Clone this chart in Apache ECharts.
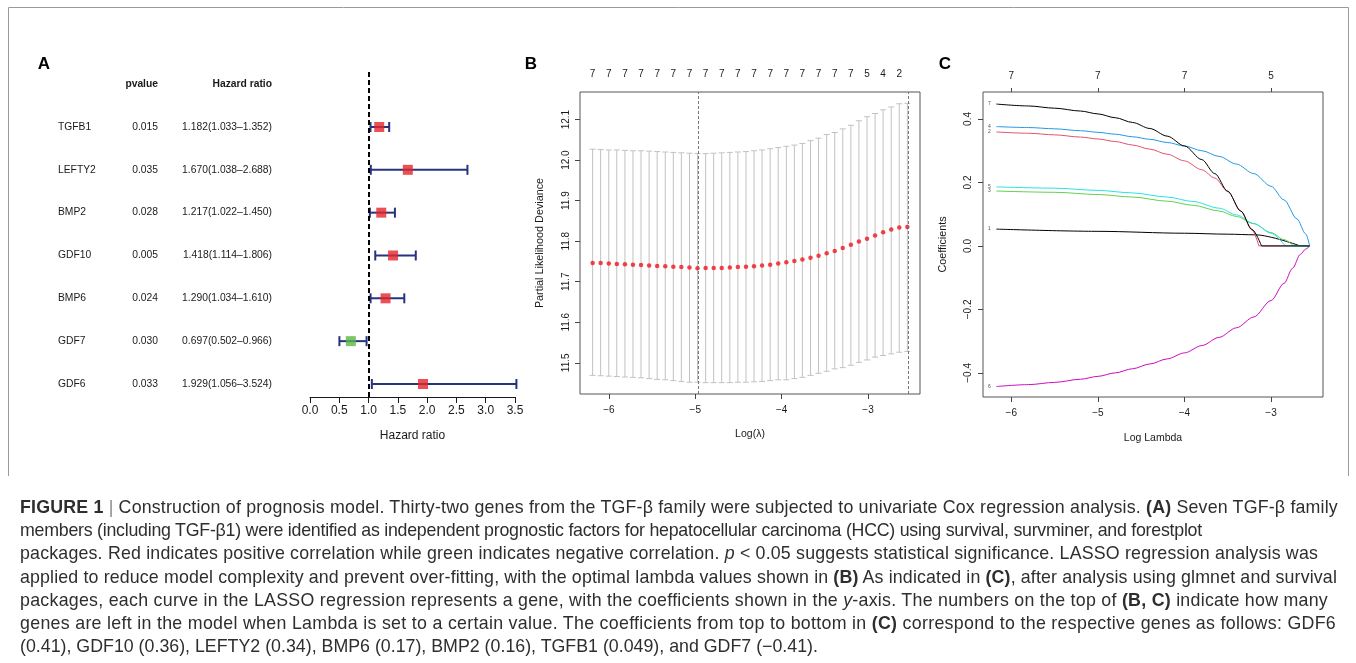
<!DOCTYPE html>
<html>
<head>
<meta charset="utf-8">
<title>Construction of prognosis model</title>
<script src="https://cdn.jsdelivr.net/npm/echarts@6/dist/echarts.min.js"></script>
<style>
  html, body { margin: 0; padding: 0; background: #fff; }
  #chart { position: absolute; left: 0; top: 0; width: 1356px; height: 663px; }
  #caption {
    position: absolute; left: 20px; top: 496px;
    font-family: 'Liberation Sans', Arial, Helvetica, sans-serif;
    font-size: 17.8px; line-height: 23.2px; color: #2e2e2e;
  }
  #caption .line { white-space: nowrap; display: block; width: max-content; }
  #caption .sep { color: #8a8a8a; }
</style>
</head>
<body>
<div id="chart"></div>
<div id="caption">
  <span class="line" data-end="1338"><b>FIGURE 1</b> <span class="sep">|</span> Construction of prognosis model. Thirty-two genes from the TGF-β family were subjected to univariate Cox regression analysis. <b>(A)</b> Seven TGF-β family</span>
  <span class="line" data-end="1202">members (including TGF-β1) were identified as independent prognostic factors for hepatocellular carcinoma (HCC) using survival, survminer, and forestplot</span>
  <span class="line" data-end="1318">packages. Red indicates positive correlation while green indicates negative correlation. <i>p</i> &lt; 0.05 suggests statistical significance. LASSO regression analysis was</span>
  <span class="line" data-end="1337">applied to reduce model complexity and prevent over-fitting, with the optimal lambda values shown in <b>(B)</b> As indicated in <b>(C)</b>, after analysis using glmnet and survival</span>
  <span class="line" data-end="1328">packages, each curve in the LASSO regression represents a gene, with the coefficients shown in the <i>y</i>-axis. The numbers on the top of <b>(B, C)</b> indicate how many</span>
  <span class="line" data-end="1336">genes are left in the model when Lambda is set to a certain value. The coefficients from top to bottom in <b>(C)</b> correspond to the respective genes as follows: GDF6</span>
  <span class="line" data-end="818">(0.41), GDF10 (0.36), LEFTY2 (0.34), BMP6 (0.17), BMP2 (0.16), TGFB1 (0.049), and GDF7 (−0.41).</span>
</div>
<script>
// ---------- Panel A: univariate Cox regression (forest plot) ----------
const genes = ['TGFB1', 'LEFTY2', 'BMP2', 'GDF10', 'BMP6', 'GDF7', 'GDF6'];
const pValues = ['0.015', '0.035', '0.028', '0.005', '0.024', '0.030', '0.033'];
const hazardRatio = [1.182, 1.670, 1.217, 1.418, 1.290, 0.697, 1.929];
const ciLower = [1.033, 1.038, 1.022, 1.114, 1.034, 0.502, 1.056];
const ciUpper = [1.352, 2.688, 1.450, 1.806, 1.610, 0.966, 3.524];
const hrAxisMin = 0, hrAxisMax = 3.5, hrAxisStep = 0.5;

// ---------- Panel B: cross-validated partial likelihood deviance ----------
const logLambdaB = [
  -6.188, -6.095, -6.001, -5.908, -5.814, -5.721, -5.628, -5.534, -5.441, -5.347,
  -5.254, -5.161, -5.067, -4.974, -4.880, -4.787, -4.694, -4.600, -4.507, -4.413,
  -4.320, -4.227, -4.133, -4.040, -3.946, -3.853, -3.760, -3.666, -3.573, -3.479,
  -3.386, -3.293, -3.199, -3.106, -3.012, -2.919, -2.826, -2.732, -2.639, -2.545
];
const cvMean = [
  11.746, 11.746, 11.745, 11.744, 11.743, 11.742, 11.741, 11.740, 11.739, 11.738,
  11.737, 11.736, 11.735, 11.733, 11.734, 11.734, 11.734, 11.735, 11.736, 11.737,
  11.738, 11.740, 11.742, 11.745, 11.748, 11.751, 11.755, 11.759, 11.764, 11.770,
  11.776, 11.783, 11.791, 11.799, 11.806, 11.814, 11.822, 11.829, 11.834, 11.835
];
const cvUpper = [
  12.027, 12.026, 12.025, 12.025, 12.024, 12.023, 12.023, 12.022, 12.021, 12.020,
  12.019, 12.018, 12.017, 12.016, 12.016, 12.017, 12.018, 12.019, 12.020, 12.021,
  12.023, 12.025, 12.028, 12.031, 12.034, 12.037, 12.041, 12.048, 12.054, 12.063,
  12.068, 12.077, 12.086, 12.097, 12.107, 12.115, 12.124, 12.131, 12.139, 12.140
];
const cvLower = [
  11.469, 11.468, 11.467, 11.466, 11.465, 11.464, 11.463, 11.461, 11.459, 11.458,
  11.456, 11.454, 11.452, 11.452, 11.451, 11.451, 11.451, 11.451, 11.452, 11.452,
  11.453, 11.454, 11.456, 11.458, 11.458, 11.461, 11.464, 11.469, 11.474, 11.479,
  11.485, 11.488, 11.494, 11.501, 11.507, 11.514, 11.518, 11.522, 11.526, 11.528
];
// number of non-zero coefficients, printed above every second lambda
const nonZeroB = [7, 7, 7, 7, 7, 7, 7, 7, 7, 7, 7, 7, 7, 7, 7, 7, 7, 5, 4, 2];
const xTicksB = [-6, -5, -4, -3];
const yTicksB = [11.5, 11.6, 11.7, 11.8, 11.9, 12.0, 12.1];

// ---------- Panel C: LASSO coefficient paths (log lambda, coefficient) ----------
const pathEndC = -2.554;
const coefPath1 = [[-6.173, 0.053], [-5.0, 0.046], [-4.0, 0.040], [-3.5, 0.037], [-3.18, 0.035], [-2.663, 0]];
const coefPath2 = [[-6.173, 0.359], [-5.8, 0.355], [-5.5, 0.350], [-5.2, 0.343], [-5.0, 0.337], [-4.8, 0.329], [-4.6, 0.318], [-4.4, 0.305], [-4.2, 0.289], [-4.0, 0.268], [-3.8, 0.240], [-3.65, 0.214], [-3.5, 0.172], [-3.35, 0.110], [-3.22, 0.050], [-3.14, 0]];
const coefPath3 = [[-6.173, 0.173], [-5.5, 0.169], [-5.0, 0.162], [-4.6, 0.154], [-4.2, 0.141], [-3.9, 0.128], [-3.6, 0.110], [-3.4, 0.093], [-3.2, 0.070], [-3.0, 0.042], [-2.85, 0.020], [-2.74, 0]];
const coefPath4 = [[-6.173, 0.376], [-5.8, 0.373], [-5.5, 0.369], [-5.2, 0.363], [-5.0, 0.358], [-4.8, 0.352], [-4.6, 0.344], [-4.4, 0.336], [-4.2, 0.326], [-4.0, 0.315], [-3.8, 0.300], [-3.6, 0.282], [-3.4, 0.258], [-3.2, 0.228], [-3.0, 0.188], [-2.85, 0.145], [-2.7, 0.085], [-2.6, 0.038], [-2.554, 0]];
const coefPath5 = [[-6.173, 0.186], [-5.5, 0.182], [-5.0, 0.175], [-4.6, 0.167], [-4.2, 0.154], [-3.9, 0.140], [-3.6, 0.119], [-3.4, 0.098], [-3.2, 0.071], [-3.0, 0.040], [-2.836, 0]];
const coefPath6 = [[-6.173, -0.443], [-5.8, -0.437], [-5.5, -0.430], [-5.2, -0.420], [-5.0, -0.411], [-4.8, -0.400], [-4.6, -0.387], [-4.4, -0.372], [-4.2, -0.356], [-4.0, -0.337], [-3.8, -0.314], [-3.6, -0.288], [-3.4, -0.258], [-3.2, -0.224], [-3.0, -0.172], [-2.85, -0.118], [-2.75, -0.070], [-2.663, -0.027], [-2.6, -0.010], [-2.554, 0]];
const coefPath7 = [[-6.173, 0.447], [-5.8, 0.441], [-5.5, 0.434], [-5.2, 0.425], [-5.0, 0.416], [-4.8, 0.404], [-4.6, 0.389], [-4.4, 0.370], [-4.2, 0.346], [-4.0, 0.315], [-3.8, 0.272], [-3.65, 0.228], [-3.5, 0.172], [-3.35, 0.110], [-3.22, 0.052], [-3.11, 0]];
const coefPaths = [coefPath1, coefPath2, coefPath3, coefPath4, coefPath5, coefPath6, coefPath7];
const pathNames = ['1', '2', '3', '4', '5', '6', '7'];
const xTicksC = [-6, -5, -4, -3];
const nonZeroC = [7, 7, 7, 5];
const yTicksC = [-0.4, -0.2, 0.0, 0.2, 0.4];

// ---------- styling ----------
const FONT = "'Liberation Sans', Arial, Helvetica, sans-serif";
const INK = '#1a1a1a';
const NAVY = '#27337f';
const RED = '#e5252b';
const GREEN = '#5cb646';
const pathColors = ['#000000', '#DF536B', '#61D04F', '#2297E6', '#28E2E5', '#CD0BBC', '#000000'];

const minus = v => (v < 0 ? '\u2212' : '') + Math.abs(v);
const fmt1 = v => (v < 0 ? '\u2212' : '') + Math.abs(v).toFixed(1);

// lambda with minimum CV deviance, and the largest lambda within one SE of it
const iMin = cvMean.indexOf(Math.min(...cvMean));
let i1se = iMin;
cvMean.forEach((m, i) => { if (m <= cvUpper[iMin] && i > i1se) i1se = i; });

const topLabelPosB = logLambdaB.filter((_, i) => i % 2 === 0);

const chart = echarts.init(document.getElementById('chart'), null, { renderer: 'canvas' });

const series = [];

// forest plot: confidence intervals
series.push({
  type: 'custom', xAxisIndex: 0, yAxisIndex: 0, z: 2,
  data: genes.map((g, i) => [ciLower[i], ciUpper[i], i]),
  encode: { x: [0, 1], y: 2 },
  renderItem: (params, api) => {
    const a = api.coord([api.value(0), api.value(2)]);
    const b = api.coord([api.value(1), api.value(2)]);
    const h = 5;
    const st = { stroke: NAVY, lineWidth: 2 };
    return { type: 'group', children: [
      { type: 'line', shape: { x1: a[0], y1: a[1], x2: b[0], y2: b[1] }, style: st },
      { type: 'line', shape: { x1: a[0], y1: a[1] - h, x2: a[0], y2: a[1] + h }, style: st },
      { type: 'line', shape: { x1: b[0], y1: b[1] - h, x2: b[0], y2: b[1] + h }, style: st }
    ] };
  }
});
// forest plot: hazard ratio boxes + reference line at HR = 1
series.push({
  type: 'scatter', xAxisIndex: 0, yAxisIndex: 0, z: 3,
  symbol: 'rect', symbolSize: 10,
  data: hazardRatio.map((v, i) => ({ value: [v, i], itemStyle: { color: v >= 1 ? RED : GREEN } })),
  markLine: {
    silent: true, symbol: ['none', 'none'], label: { show: false }, animation: false,
    lineStyle: { color: '#000', width: 2, type: [5, 3] },
    data: [{ xAxis: 1 }]
  }
});
// forest plot: table columns (gene, p value, HR with CI)
series.push({
  type: 'custom', xAxisIndex: 0, yAxisIndex: 0, z: 2,
  data: genes.map((g, i) => [0, i]),
  encode: { x: 0, y: 1 },
  renderItem: (params, api) => {
    const i = params.dataIndex;
    const y = api.coord([0, api.value(1)])[1];
    const st = { fill: INK, fontSize: 10.3, fontFamily: FONT, verticalAlign: 'middle' };
    const hrText = hazardRatio[i].toFixed(3) + '(' + ciLower[i].toFixed(3) + '\u2013' + ciUpper[i].toFixed(3) + ')';
    return { type: 'group', children: [
      { type: 'text', x: 58, y: y, style: Object.assign({ text: genes[i], align: 'left' }, st) },
      { type: 'text', x: 158, y: y, style: Object.assign({ text: pValues[i], align: 'right' }, st) },
      { type: 'text', x: 272, y: y, style: Object.assign({ text: hrText, align: 'right' }, st) }
    ] };
  }
});

// CV curve: error bars
series.push({
  type: 'custom', xAxisIndex: 1, yAxisIndex: 1, z: 2,
  data: logLambdaB.map((x, i) => [x, cvLower[i], cvUpper[i]]),
  encode: { x: 0, y: [1, 2] },
  renderItem: (params, api) => {
    const lo = api.coord([api.value(0), api.value(1)]);
    const hi = api.coord([api.value(0), api.value(2)]);
    const w = 3;
    const st = { stroke: '#c2c2c2', lineWidth: 1 };
    return { type: 'group', children: [
      { type: 'line', shape: { x1: lo[0], y1: lo[1], x2: hi[0], y2: hi[1] }, style: st },
      { type: 'line', shape: { x1: lo[0] - w, y1: lo[1], x2: lo[0] + w, y2: lo[1] }, style: st },
      { type: 'line', shape: { x1: hi[0] - w, y1: hi[1], x2: hi[0] + w, y2: hi[1] }, style: st }
    ] };
  }
});
// CV curve: mean deviance points and the two selected lambdas
series.push({
  type: 'scatter', xAxisIndex: 1, yAxisIndex: 1, z: 3,
  symbol: 'circle', symbolSize: 4.5, itemStyle: { color: '#f0141e' },
  data: logLambdaB.map((x, i) => [x, cvMean[i]]),
  markLine: {
    silent: true, symbol: ['none', 'none'], label: { show: false }, animation: false,
    lineStyle: { color: '#777', width: 1, type: [3, 2] },
    data: [{ xAxis: logLambdaB[iMin] }, { xAxis: logLambdaB[i1se] }]
  }
});

// coefficient paths: curved part until the coefficient reaches zero, then flat at zero
coefPaths.forEach((p, k) => {
  const zeroAt = p[p.length - 1];
  series.push({
    type: 'line', xAxisIndex: 3, yAxisIndex: 2, z: 2,
    data: p, smooth: 0.3, smoothMonotone: 'x', showSymbol: false, symbol: 'none',
    lineStyle: { color: pathColors[k], width: 1 }, animation: false
  });
  if (zeroAt[0] < pathEndC) {
    series.push({
      type: 'line', xAxisIndex: 3, yAxisIndex: 2, z: 2,
      data: [zeroAt, [pathEndC, 0]], showSymbol: false, symbol: 'none',
      lineStyle: { color: pathColors[k], width: 1 }, animation: false
    });
  }
});
// small path numbers at the left end of each path
series.push({
  type: 'scatter', xAxisIndex: 3, yAxisIndex: 2, z: 4,
  symbolSize: 1, itemStyle: { color: 'rgba(0,0,0,0)' },
  data: coefPaths.map((p, k) => ({ value: p[0], name: pathNames[k] })),
  label: { show: true, position: 'left', distance: 5, formatter: d => d.name, fontSize: 5, color: INK, fontFamily: FONT }
});

const axisText = { color: INK, fontFamily: FONT };
const noZero = { show: false, onZero: false };

const option = {
  animation: false,
  textStyle: { fontFamily: FONT },
  grid: [
    { left: 310, top: 72, width: 205, height: 325, show: false, outerBoundsMode: 'none' },
    { left: 580, top: 92, width: 340, height: 302, show: true, borderColor: '#555', borderWidth: 1, backgroundColor: 'transparent', outerBoundsMode: 'none' },
    { left: 983, top: 92, width: 340, height: 305, show: true, borderColor: '#555', borderWidth: 1, backgroundColor: 'transparent', outerBoundsMode: 'none' }
  ],
  xAxis: [
    { gridIndex: 0, type: 'value', position: 'bottom', min: hrAxisMin, max: hrAxisMax, interval: hrAxisStep,
      axisLine: { show: true, onZero: false, lineStyle: { color: INK, width: 1 } },
      axisTick: { show: true, length: 6, lineStyle: { color: INK } },
      axisLabel: Object.assign({ fontSize: 12, margin: 8, formatter: v => v.toFixed(1), showMinLabel: true, showMaxLabel: true }, axisText),
      splitLine: { show: false },
      name: 'Hazard ratio', nameLocation: 'middle', nameGap: 33, nameTextStyle: Object.assign({ fontSize: 12 }, axisText) },
    { gridIndex: 1, type: 'value', position: 'bottom', min: -6.334, max: -2.399,
      axisLine: noZero,
      axisTick: { show: true, length: 5, customValues: xTicksB, lineStyle: { color: '#444' } },
      axisLabel: Object.assign({ fontSize: 10, margin: 11, customValues: xTicksB, formatter: minus }, axisText),
      splitLine: { show: false },
      name: 'Log(\u03bb)', nameLocation: 'middle', nameGap: 35, nameTextStyle: Object.assign({ fontSize: 10.5 }, axisText) },
    { gridIndex: 1, type: 'value', position: 'top', min: -6.334, max: -2.399,
      axisLine: noZero, axisTick: { show: false },
      axisLabel: Object.assign({ fontSize: 10, margin: 13, customValues: topLabelPosB,
        formatter: v => { const i = topLabelPosB.findIndex(t => Math.abs(t - v) < 1e-6); return i >= 0 ? String(nonZeroB[i]) : ''; } }, axisText),
      splitLine: { show: false } },
    { gridIndex: 2, type: 'value', position: 'bottom', min: -6.327, max: -2.400,
      axisLine: noZero,
      axisTick: { show: true, length: 5, customValues: xTicksC, lineStyle: { color: '#444' } },
      axisLabel: Object.assign({ fontSize: 10, margin: 11, customValues: xTicksC, formatter: minus }, axisText),
      splitLine: { show: false },
      name: 'Log Lambda', nameLocation: 'middle', nameGap: 36, nameTextStyle: Object.assign({ fontSize: 10.5 }, axisText) },
    { gridIndex: 2, type: 'value', position: 'top', min: -6.327, max: -2.400,
      axisLine: noZero,
      axisTick: { show: true, length: 4, customValues: xTicksC, lineStyle: { color: '#444' } },
      axisLabel: Object.assign({ fontSize: 10, margin: 11, customValues: xTicksC,
        formatter: v => { const i = xTicksC.indexOf(v); return i >= 0 ? String(nonZeroC[i]) : ''; } }, axisText),
      splitLine: { show: false } }
  ],
  yAxis: [
    { gridIndex: 0, type: 'value', min: -1.284, max: 6.304, inverse: true, show: false },
    { gridIndex: 1, type: 'value', min: 11.423, max: 12.168,
      axisLine: noZero,
      axisTick: { show: true, length: 5, customValues: yTicksB, lineStyle: { color: '#444' } },
      axisLabel: Object.assign({ fontSize: 10, margin: 9, rotate: 90, customValues: yTicksB, formatter: v => v.toFixed(1) }, axisText),
      splitLine: { show: false },
      name: 'Partial Likelihood Deviance', nameLocation: 'middle', nameRotate: 90, nameGap: 34, nameTextStyle: Object.assign({ fontSize: 10.8 }, axisText) },
    { gridIndex: 2, type: 'value', min: -0.476, max: 0.485,
      axisLine: noZero,
      axisTick: { show: true, length: 5, customValues: yTicksC, lineStyle: { color: '#444' } },
      axisLabel: Object.assign({ fontSize: 10, margin: 10, rotate: 90, customValues: yTicksC, formatter: fmt1 }, axisText),
      splitLine: { show: false },
      name: 'Coefficients', nameLocation: 'middle', nameRotate: 90, nameGap: 34, nameTextStyle: Object.assign({ fontSize: 10.8 }, axisText) }
  ],
  graphic: [
    { type: 'polyline', silent: true, shape: { points: [[8.5, 476], [8.5, 7.5], [1348.5, 7.5], [1348.5, 476]] }, style: { fill: 'none', stroke: '#9a9a9a', lineWidth: 1 } },
    { type: 'text', x: 44, y: 64, style: { text: 'A', font: "bold 17px 'Liberation Sans', Arial, sans-serif", fill: '#000', align: 'center', verticalAlign: 'middle' } },
    { type: 'text', x: 531, y: 64, style: { text: 'B', font: "bold 17px 'Liberation Sans', Arial, sans-serif", fill: '#000', align: 'center', verticalAlign: 'middle' } },
    { type: 'text', x: 945, y: 64, style: { text: 'C', font: "bold 17px 'Liberation Sans', Arial, sans-serif", fill: '#000', align: 'center', verticalAlign: 'middle' } },
    { type: 'text', x: 158, y: 84, style: { text: 'pvalue', font: "bold 10.3px 'Liberation Sans', Arial, sans-serif", fill: INK, align: 'right', verticalAlign: 'middle' } },
    { type: 'text', x: 272, y: 84, style: { text: 'Hazard ratio', font: "bold 10.3px 'Liberation Sans', Arial, sans-serif", fill: INK, align: 'right', verticalAlign: 'middle' } }
  ],
  series: series
};

chart.setOption(option);

// caption: stretch or tighten each line so it ends where its data-end says
document.querySelectorAll('#caption .line').forEach(el => {
  const left = el.getBoundingClientRect().left;
  const natural = el.getBoundingClientRect().width;
  const target = parseFloat(el.dataset.end) - left;
  const chars = el.textContent.length;
  if (chars > 1) el.style.letterSpacing = ((target - natural) / chars).toFixed(3) + 'px';
});
</script>
</body>
</html>
